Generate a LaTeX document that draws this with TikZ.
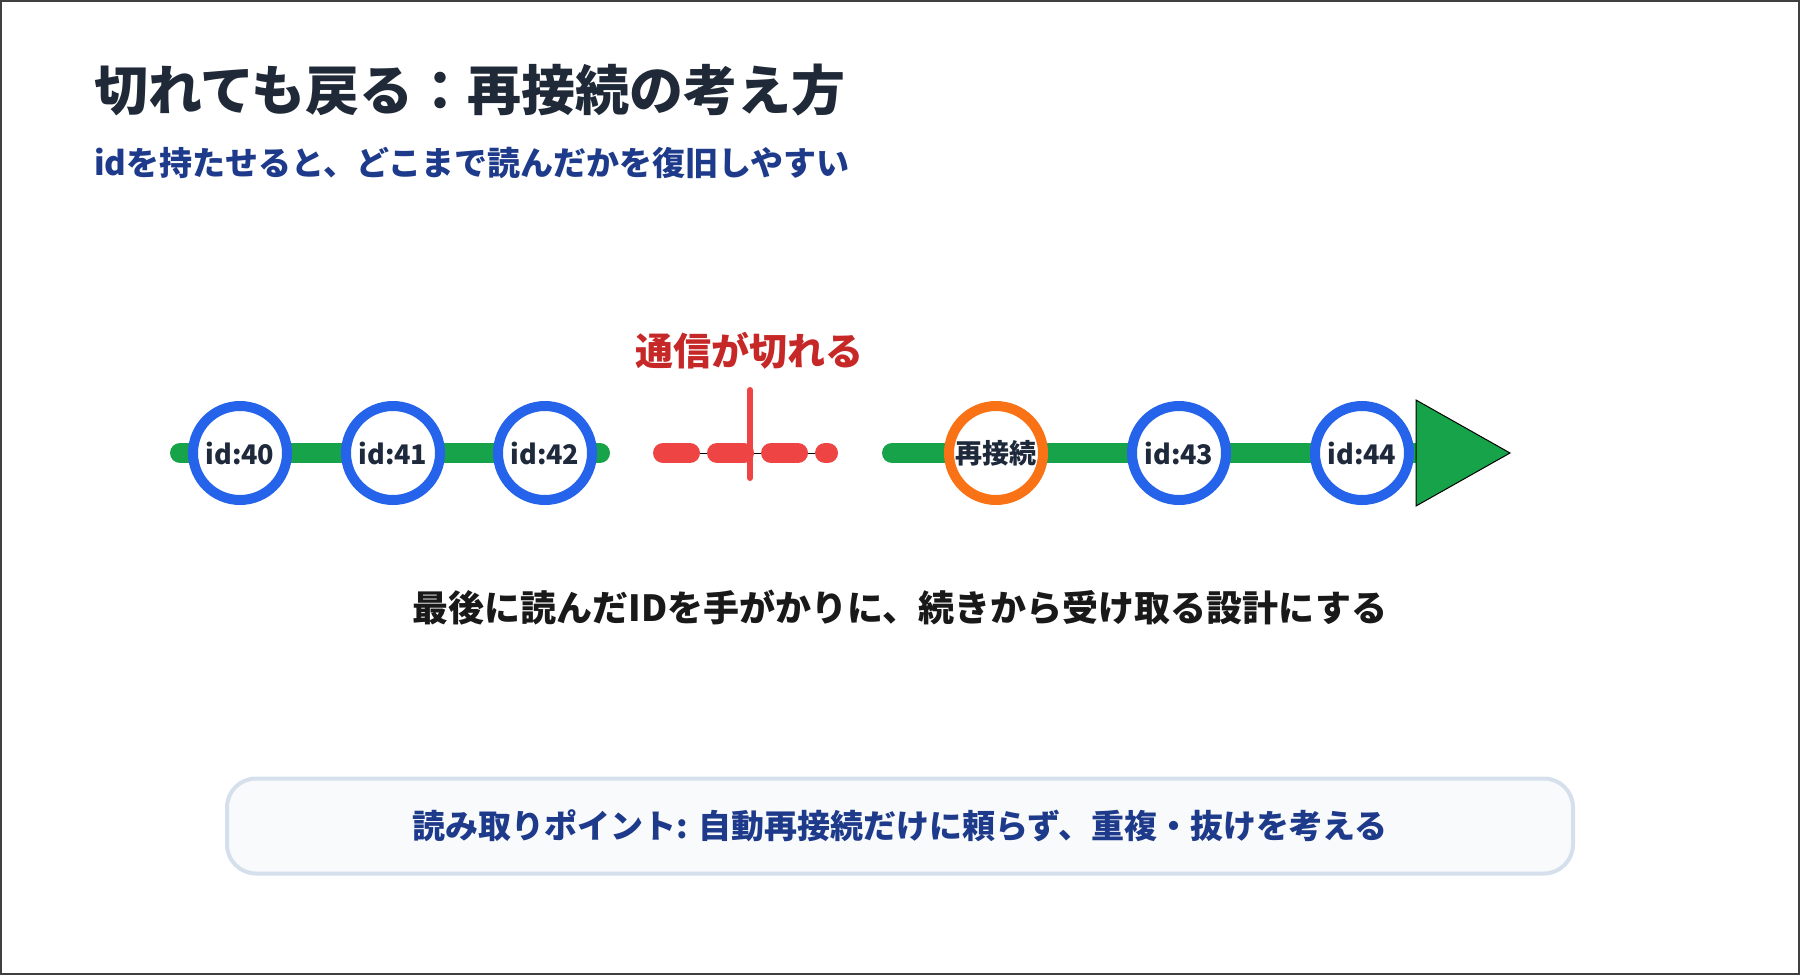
\documentclass[tikz,border=0pt]{standalone}
\usepackage{fontspec}
\setmainfont{Noto Sans CJK JP}
\usetikzlibrary{positioning}

\definecolor{trackgreen}{HTML}{16A34A}
\definecolor{idblue}{HTML}{2563EB}
\definecolor{reconorange}{HTML}{F97316}
\definecolor{cutred}{HTML}{EF4444}
\definecolor{cutink}{HTML}{C62828}
\definecolor{titleink}{HTML}{1F2937}
\definecolor{subink}{HTML}{1E3A8A}
\definecolor{labelink}{HTML}{1E293B}
\definecolor{boxfill}{HTML}{F8FAFC}
\definecolor{boxline}{HTML}{D6E0EC}

\begin{document}
\begin{tikzpicture}[x=1pt, y=-1pt]
    % Styles
    \tikzstyle{idnode} = [circle, draw=idblue, line width=10pt, fill=white, minimum size=94pt, inner sep=0pt, text=labelink, font=\fontsize{27}{30}\selectfont\bfseries]
    \tikzstyle{renode} = [idnode, draw=reconorange]
    \tikzstyle{track} = [line width=20pt, draw=trackgreen, line cap=round]
    \tikzstyle{cutline} = [line width=20pt, draw=cutred, line cap=round, dash pattern=on 27pt off 27pt]
    \tikzstyle{pointbox} = [rectangle, rounded corners=29pt, draw=boxline, line width=4pt, fill=boxfill, minimum width=1346pt, minimum height=95pt, text=subink, font=\fontsize{33}{36}\selectfont\bfseries]

    % Frame
    \useasboundingbox (0,0) rectangle (1800,975);
    \draw[line width=2pt, black!75] (1,1) rectangle (1799,974);

    % Headings
    \node[anchor=west, inner sep=0pt, text=titleink, font=\fontsize{54}{60}\selectfont\bfseries] (title) at (94,90) {切れても戻る：再接続の考え方};
    \node[anchor=west, inner sep=0pt, text=subink, font=\fontsize{33}{36}\selectfont\bfseries] (subtitle) at (94,163) {idを持たせると、どこまで読んだかを復旧しやすい};

    % Track ends
    \coordinate (startA) at (180,453);
    \coordinate (endA) at (600,453);
    \coordinate (cutL) at (663,453);
    \coordinate (cutR) at (828,453);
    \coordinate (tickT) at (750,390);
    \coordinate (tickB) at (750,478);
    \coordinate (startB) at (892,453);
    \coordinate (endB) at (1420,453);

    % Tracks
    \draw[track] (startA) -- (endA);
    \draw[line width=0.8pt, black] (cutL) -- (cutR);
    \draw[cutline] (cutL) -- (cutR);
    \draw[line width=6pt, draw=cutred, line cap=round] (tickT) -- (tickB);
    \draw[track] (startB) -- (endB);

    % Head
    \draw[fill=trackgreen, draw=black, line width=1pt] (1416,400) -- (1510,453) -- (1416,506) -- cycle;

    % Nodes
    \node[idnode] (id40) at (240,453) {id:40};
    \node[idnode] (id41) at (393,453) {id:41};
    \node[idnode] (id42) at (545,453) {id:42};
    \node[renode] (recon) at (996,453) {再接続};
    \node[idnode] (id43) at (1179,453) {id:43};
    \node[idnode] (id44) at (1362,453) {id:44};

    \node[text=cutink, font=\fontsize{38}{42}\selectfont\bfseries] (cutlabel) at (749,351) {通信が切れる};

    % Messages
    \node[text=black!90, font=\fontsize{36}{40}\selectfont\bfseries] (message) at (900,608) {最後に読んだIDを手がかりに、続きから受け取る設計にする};
    \node[pointbox] (point) at (900,826) {読み取りポイント: 自動再接続だけに頼らず、重複・抜けを考える};

\end{tikzpicture}
\end{document}
